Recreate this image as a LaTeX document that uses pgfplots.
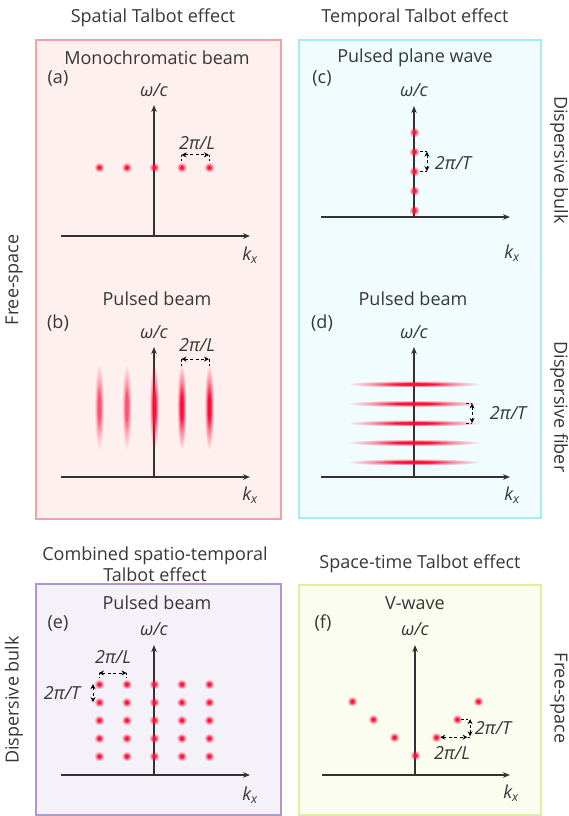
\documentclass[border=0pt]{standalone}
\usepackage{fontspec}
\setmainfont{Open Sans}
\usepackage{pgfplots}
\pgfplotsset{compat=1.18}
\usepackage{pgfplotstable}
\usetikzlibrary{arrows.meta,fadings}

\definecolor{bgA}{RGB}{255,240,240}
\definecolor{bdA}{RGB}{245,160,168}
\definecolor{bgC}{RGB}{240,252,254}
\definecolor{bdC}{RGB}{165,236,245}
\definecolor{bgE}{RGB}{244,242,248}
\definecolor{bdE}{RGB}{178,150,210}
\definecolor{bgF}{RGB}{251,253,240}
\definecolor{bdF}{RGB}{225,240,160}
\definecolor{dotred}{RGB}{255,15,55}
\definecolor{axgray}{RGB}{50,50,50}
\definecolor{txt}{RGB}{55,55,55}
\definecolor{fopaque}{gray}{1}
\definecolor{fmid}{gray}{0.45}
\definecolor{fclear}{gray}{0}

% soft (blurred) spot: radial transparency mask
\pgfdeclareradialshading{blobmask}{\pgfpointorigin}{color(0bp)=(fopaque);color(14bp)=(fopaque);color(30bp)=(fmid);color(50bp)=(fclear);color(75bp)=(fclear)}
\pgfdeclarefading{blobfade}{\pgfuseshading{blobmask}}

\newcommand\spot[3]{% xscale, yscale, opacity
  \pgfscope\pgftransformxscale{#1}\pgftransformyscale{#2}\pgflowlevelsynccm
  \pgfsetfading{blobfade}{}\pgfsetfillcolor{dotred}\pgfsetfillopacity{#3}%
  \pgfpathrectangle{\pgfpoint{-50bp}{-50bp}}{\pgfpoint{100bp}{100bp}}\pgfusepath{fill}\endpgfscope}
\pgfdeclareplotmark{dot}{\spot{0.1}{0.1}{1}}
\pgfdeclareplotmark{vell}{\spot{0.095}{0.86}{1}}
\pgfdeclareplotmark{vellweak}{\spot{0.095}{0.86}{0.7}}
\pgfdeclareplotmark{hell}{\spot{1.34}{0.068}{1}}

\pgfplotsset{
  panel/.style={
    scale only axis, axis lines=middle, xtick=\empty, ytick=\empty,
    axis line style={draw=axgray, line width=1.3pt, -{Stealth[length=7pt,width=5.5pt]}},
    ymin=0, anchor=south west, clip=false,
  },
}
\tikzset{
  annot/.style={black, line width=0.8pt, dash pattern=on 3pt off 2.5pt,
    {Stealth[length=5pt,width=5pt]}-{Stealth[length=5pt,width=5pt]}},
  tk/.style={black, line width=0.8pt, dash pattern=on 2.5pt off 2pt},
}

% data (kx in units of 2pi/L, omega/c in units of the panel's spacing)
\pgfplotstableread{
kx w
-2 2.5
-1 2.5
0 2.5
1 2.5
2 2.5
}\dataA
\pgfplotstableread{
kx w
-2 2.55
-1 2.55
}\dataBweak
\pgfplotstableread{
kx w
0 2.55
1 2.55
2 2.55
}\dataBstrong
\pgfplotstableread{
kx w
0 0.35
0 1.35
0 2.35
0 3.35
0 4.35
}\dataC
\pgfplotstableread{
kx w
0 0.77
0 1.77
0 2.77
0 3.77
0 4.77
}\dataD
\pgfplotstableread{
kx w
-2 1.05
-2 2.05
-2 3.05
-2 4.05
-2 5.05
-1 1.05
-1 2.05
-1 3.05
-1 4.05
-1 5.05
0 1.05
0 2.05
0 3.05
0 4.05
0 5.05
1 1.05
1 2.05
1 3.05
1 4.05
1 5.05
2 1.05
2 2.05
2 3.05
2 4.05
2 5.05
}\dataE
\pgfplotstableread{
kx w
-3 4.1
-2 3.1
-1 2.1
0 1.1
1 2.1
2 3.1
3 4.1
}\dataF

\begin{document}
\begin{tikzpicture}[every node/.style={font=\fontsize{18}{21}\selectfont, text=txt, inner sep=0pt}]
\path[use as bounding box] (0pt,0pt) rectangle (569pt,-816pt);
% panel frames
\draw[draw=bdA, fill=bgA, line width=1.3pt] (36pt,-40pt) rectangle (281pt,-519pt);
\draw[draw=bdC, fill=bgC, line width=1.3pt] (299pt,-40pt) rectangle (541pt,-518pt);
\draw[draw=bdE, fill=bgE, line width=1.3pt] (36pt,-584pt) rectangle (281pt,-815pt);
\draw[draw=bdF, fill=bgF, line width=1.3pt] (299pt,-585pt) rectangle (541pt,-815pt);

% (a)
\begin{axis}[panel, x=27.5pt, y=27.5pt, xmin=-3.382, xmax=3.491, ymax=4.764, at={(61pt,-236pt)}]
\addplot[only marks, mark=dot] table[x=kx,y=w]{\dataA};
\draw[annot] (axis cs:1,2.95) -- (axis cs:2,2.95);
\draw[tk] (axis cs:1,2.95) -- (axis cs:1,2.74);
\draw[tk] (axis cs:2,2.95) -- (axis cs:2,2.74);
\end{axis}
% (b)
\begin{axis}[panel, x=27.5pt, y=27.5pt, xmin=-3.382, xmax=3.491, ymax=4.727, at={(61pt,-477pt)}]
\addplot[only marks, mark=vellweak] table[x=kx,y=w]{\dataBweak};
\addplot[only marks, mark=vell] table[x=kx,y=w]{\dataBstrong};
\draw[annot] (axis cs:1,4.29) -- (axis cs:2,4.29);
\draw[tk] (axis cs:1,4.29) -- (axis cs:1,3.98);
\draw[tk] (axis cs:2,4.29) -- (axis cs:2,3.98);
\end{axis}
% (c)
\begin{axis}[panel, x=27.5pt, y=19.5pt, xmin=-3.382, xmax=3.491, ymax=5.69, at={(321pt,-217pt)}]
\addplot[only marks, mark=dot] table[x=kx,y=w]{\dataC};
\draw[annot] (axis cs:0.47,3.35) -- (axis cs:0.47,2.35);
\draw[tk] (axis cs:0.22,3.35) -- (axis cs:0.47,3.35);
\draw[tk] (axis cs:0.22,2.35) -- (axis cs:0.47,2.35);
\end{axis}
% (d)
\begin{axis}[panel, x=27.5pt, y=19.5pt, xmin=-3.382, xmax=3.491, ymax=6.667, at={(321pt,-477pt)}]
\addplot[only marks, mark=hell] table[x=kx,y=w]{\dataD};
\draw[annot] (axis cs:2.11,3.77) -- (axis cs:2.11,2.77);
\draw[tk] (axis cs:1.9,3.77) -- (axis cs:2.11,3.77);
\draw[tk] (axis cs:1.9,2.77) -- (axis cs:2.11,2.77);
\end{axis}
% (e)
\begin{axis}[panel, x=27.5pt, y=18pt, xmin=-3.382, xmax=3.491, ymax=7.22, at={(61pt,-775pt)}]
\addplot[only marks, mark=dot] table[x=kx,y=w]{\dataE};
\draw[annot] (axis cs:-2,5.67) -- (axis cs:-1,5.67);
\draw[tk] (axis cs:-2,5.67) -- (axis cs:-2,5.38);
\draw[tk] (axis cs:-1,5.67) -- (axis cs:-1,5.38);
\draw[annot] (axis cs:-2.22,5.05) -- (axis cs:-2.22,4.05);
\end{axis}
% (f)
\begin{axis}[panel, x=21pt, y=18pt, xmin=-4.43, xmax=4.52, ymax=7.22, at={(322pt,-775pt)}]
\addplot[only marks, mark=dot] table[x=kx,y=w]{\dataF};
\draw[annot] (axis cs:1.2,2.1) -- (axis cs:2.5,2.1);
\draw[tk] (axis cs:2.5,2.1) -- (axis cs:2.62,2.1);
\draw[annot] (axis cs:2.62,2.15) -- (axis cs:2.62,3.1);
\draw[tk] (axis cs:2.2,3.1) -- (axis cs:2.62,3.1);
\end{axis}

% titles
\node at (153pt,-18pt) {Spatial Talbot effect};
\node at (415pt,-18pt) {Temporal Talbot effect};
\node[align=center] at (155pt,-564pt) {Combined spatio-temporal\\Talbot effect};
\node at (420pt,-564pt) {Space-time Talbot effect};
% side labels
\node[rotate=90] at (14pt,-280pt) {Free-space};
\node[rotate=-90] at (559pt,-160pt) {Dispersive bulk};
\node[rotate=-90] at (559pt,-407pt) {Dispersive fiber};
\node[rotate=90] at (14pt,-700pt) {Dispersive bulk};
\node[rotate=-90] at (559pt,-698pt) {Free-space};
% panel headings
\node at (157pt,-58pt) {Monochromatic beam};
\node at (58pt,-78pt) {(a)};
\node at (157pt,-299pt) {Pulsed beam};
\node at (58pt,-323pt) {(b)};
\node at (415pt,-58pt) {Pulsed plane wave};
\node at (322pt,-78pt) {(c)};
\node at (413pt,-299pt) {Pulsed beam};
\node at (322pt,-323pt) {(d)};
\node at (157pt,-603pt) {Pulsed beam};
\node at (58pt,-623pt) {(e)};
\node at (415pt,-603pt) {V-wave};
\node at (323pt,-623pt) {(f)};
% axis labels
\foreach \x/\y in {154/90, 154/332, 414/90, 414/332, 154/629, 415/629}
  \node at (\x pt,-\y pt) {\itshape ω/c};
\foreach \x/\y in {250/255, 250/495, 512/253, 512/495, 250/795, 511/793}
  \node at (\x pt,-\y pt) {\itshape k\textsubscript{x}};
\foreach \x/\y in {197/143, 197/345, 113/657, 452/753}
  \node at (\x pt,-\y pt) {\itshape 2π/L};
\foreach \x/\y in {453/163, 508/413, 62/693, 493/728}
  \node at (\x pt,-\y pt) {\itshape 2π/T};
\end{tikzpicture}
\end{document}
